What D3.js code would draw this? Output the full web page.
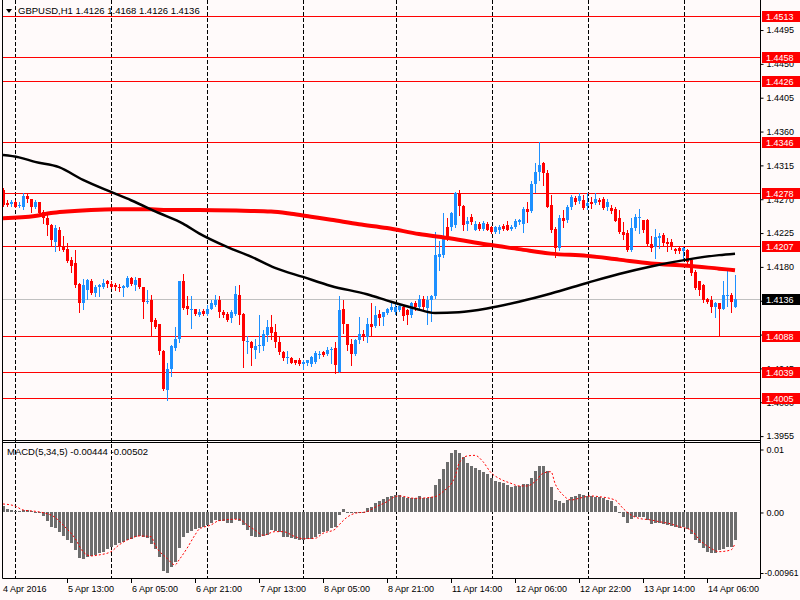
<!DOCTYPE html>
<html><head><meta charset="utf-8">
<script src="https://cdn.jsdelivr.net/npm/d3@7/dist/d3.min.js"></script>
<style>
body{margin:0;background:#fffafa}
svg{display:block}
text{font-family:"Liberation Sans",Arial,sans-serif;font-size:9px}
</style>
</head><body>
<svg id="chart" width="800" height="600"></svg>
<script>
// ---------- DATA ----------
const symbolTitle = "GBPUSD,H1  1.4126 1.4168 1.4126 1.4136";
const macdTitle = "MACD(5,34,5) -0.00444 -0.00502";

const openP = [1.4282,1.4264,1.4263,1.4266,1.4260,1.4259,1.4274,1.4269,1.4259,1.4265,
1.4253,1.4244,1.4235,1.4213,1.4228,1.4206,1.4203,1.4189,1.4185,1.4157,
1.4131,1.4149,1.4161,1.4144,1.4153,1.4153,1.4160,1.4157,1.4155,1.4153,
1.4151,1.4153,1.4165,1.4155,1.4164,1.4152,1.4133,1.4135,1.4109,1.4103,
1.4068,1.4016,1.4044,1.4071,1.4083,1.4160,1.4127,1.4122,1.4123,1.4115,
1.4121,1.4117,1.4124,1.4129,1.4135,1.4119,1.4117,1.4111,1.4117,1.4142,
1.4117,1.4080,1.4080,1.4069,1.4074,1.4074,1.4089,1.4100,1.4093,1.4080,
1.4066,1.4058,1.4058,1.4055,1.4055,1.4050,1.4051,1.4050,1.4053,1.4062,
1.4066,1.4064,1.4069,1.4071,1.4040,1.4123,1.4103,1.4077,1.4064,1.4082,
1.4090,1.4086,1.4104,1.4101,1.4117,1.4113,1.4118,1.4122,1.4119,1.4122,
1.4126,1.4122,1.4115,1.4131,1.4126,1.4136,1.4125,1.4135,1.4140,1.4193,
1.4195,1.4232,1.4232,1.4235,1.4277,1.4260,1.4236,1.4246,1.4229,1.4236,
1.4230,1.4236,1.4232,1.4226,1.4228,1.4234,1.4235,1.4230,1.4232,1.4239,
1.4237,1.4256,1.4254,1.4290,1.4306,1.4317,1.4304,1.4262,1.4230,1.4204,
1.4244,1.4242,1.4259,1.4271,1.4267,1.4268,1.4260,1.4265,1.4264,1.4268,
1.4269,1.4259,1.4258,1.4257,1.4244,1.4226,1.4224,1.4202,1.4231,1.4244,
1.4242,1.4242,1.4210,1.4206,1.4218,1.4222,1.4212,1.4212,1.4203,1.4204,
1.4201,1.4202,1.4189,1.4172,1.4160,1.4155,1.4136,1.4135,1.4126,1.4131,
1.4124,1.4140,1.4142,1.4126];

const highP = [1.4284,1.4268,1.4268,1.4268,1.4265,1.4278,1.4278,1.4270,1.4268,1.4266,
1.4255,1.4248,1.4236,1.4235,1.4233,1.4220,1.4211,1.4193,1.4202,1.4158,
1.4163,1.4163,1.4163,1.4155,1.4156,1.4163,1.4162,1.4161,1.4158,1.4157,
1.4155,1.4167,1.4166,1.4166,1.4165,1.4153,1.4148,1.4142,1.4111,1.4104,
1.4069,1.4051,1.4075,1.4100,1.4161,1.4170,1.4140,1.4140,1.4124,1.4124,
1.4123,1.4129,1.4135,1.4142,1.4140,1.4122,1.4119,1.4122,1.4154,1.4155,
1.4118,1.4087,1.4081,1.4084,1.4115,1.4095,1.4109,1.4116,1.4104,1.4087,
1.4067,1.4067,1.4060,1.4056,1.4058,1.4055,1.4056,1.4061,1.4067,1.4067,
1.4067,1.4073,1.4073,1.4079,1.4140,1.4135,1.4104,1.4084,1.4084,1.4113,
1.4095,1.4111,1.4131,1.4127,1.4122,1.4120,1.4125,1.4132,1.4131,1.4131,
1.4128,1.4124,1.4133,1.4134,1.4142,1.4140,1.4140,1.4142,1.4226,1.4214,
1.4251,1.4245,1.4253,1.4279,1.4282,1.4261,1.4246,1.4250,1.4241,1.4239,
1.4241,1.4239,1.4234,1.4234,1.4235,1.4236,1.4240,1.4235,1.4243,1.4243,
1.4259,1.4266,1.4293,1.4317,1.4346,1.4319,1.4308,1.4275,1.4233,1.4248,
1.4255,1.4261,1.4275,1.4273,1.4277,1.4275,1.4278,1.4272,1.4277,1.4271,
1.4272,1.4269,1.4261,1.4259,1.4255,1.4239,1.4228,1.4244,1.4250,1.4257,
1.4242,1.4243,1.4220,1.4230,1.4224,1.4224,1.4218,1.4216,1.4205,1.4207,
1.4206,1.4203,1.4190,1.4175,1.4161,1.4157,1.4138,1.4140,1.4133,1.4132,
1.4160,1.4175,1.4144,1.4168];

const lowP = [1.4260,1.4260,1.4260,1.4259,1.4259,1.4257,1.4266,1.4253,1.4258,1.4250,
1.4238,1.4222,1.4208,1.4200,1.4202,1.4200,1.4186,1.4173,1.4153,1.4119,
1.4124,1.4137,1.4143,1.4140,1.4140,1.4151,1.4153,1.4151,1.4149,1.4147,
1.4141,1.4152,1.4155,1.4149,1.4151,1.4111,1.4132,1.4089,1.4098,1.4064,
1.4016,1.4003,1.4034,1.4069,1.4080,1.4124,1.4117,1.4098,1.4115,1.4114,
1.4115,1.4115,1.4123,1.4127,1.4113,1.4113,1.4108,1.4106,1.4116,1.4104,
1.4046,1.4065,1.4049,1.4058,1.4066,1.4069,1.4081,1.4083,1.4073,1.4064,
1.4055,1.4051,1.4051,1.4050,1.4049,1.4044,1.4049,1.4047,1.4051,1.4058,
1.4061,1.4062,1.4051,1.4038,1.4040,1.4091,1.4069,1.4049,1.4062,1.4078,
1.4082,1.4080,1.4087,1.4100,1.4102,1.4102,1.4117,1.4121,1.4117,1.4121,
1.4109,1.4104,1.4113,1.4122,1.4124,1.4123,1.4104,1.4108,1.4138,1.4175,
1.4193,1.4215,1.4228,1.4233,1.4248,1.4228,1.4228,1.4237,1.4228,1.4228,
1.4228,1.4228,1.4224,1.4224,1.4225,1.4228,1.4228,1.4229,1.4231,1.4237,
1.4226,1.4239,1.4253,1.4279,1.4295,1.4288,1.4259,1.4226,1.4193,1.4202,
1.4233,1.4239,1.4257,1.4263,1.4264,1.4257,1.4257,1.4258,1.4263,1.4263,
1.4257,1.4255,1.4251,1.4241,1.4224,1.4217,1.4201,1.4200,1.4228,1.4224,
1.4226,1.4209,1.4201,1.4191,1.4204,1.4209,1.4200,1.4203,1.4198,1.4198,
1.4190,1.4185,1.4168,1.4150,1.4142,1.4133,1.4131,1.4119,1.4113,1.4088,
1.4123,1.4128,1.4119,1.4126];

const closeP = [1.4262,1.4262,1.4265,1.4259,1.4261,1.4274,1.4269,1.4259,1.4265,1.4251,
1.4244,1.4235,1.4215,1.4231,1.4206,1.4202,1.4187,1.4180,1.4155,1.4131,
1.4155,1.4162,1.4144,1.4153,1.4155,1.4158,1.4157,1.4153,1.4153,1.4152,
1.4154,1.4164,1.4157,1.4162,1.4152,1.4133,1.4134,1.4106,1.4100,1.4068,
1.4017,1.4044,1.4074,1.4083,1.4160,1.4125,1.4123,1.4123,1.4117,1.4119,
1.4117,1.4124,1.4131,1.4135,1.4119,1.4116,1.4109,1.4119,1.4143,1.4115,
1.4081,1.4081,1.4071,1.4074,1.4076,1.4090,1.4100,1.4092,1.4080,1.4066,
1.4058,1.4059,1.4052,1.4052,1.4050,1.4053,1.4055,1.4059,1.4065,1.4064,
1.4062,1.4069,1.4070,1.4049,1.4122,1.4104,1.4075,1.4064,1.4082,1.4090,
1.4086,1.4104,1.4100,1.4115,1.4111,1.4119,1.4123,1.4126,1.4126,1.4127,
1.4114,1.4115,1.4131,1.4126,1.4136,1.4126,1.4135,1.4140,1.4195,1.4196,
1.4219,1.4219,1.4251,1.4277,1.4260,1.4235,1.4240,1.4239,1.4236,1.4230,
1.4238,1.4229,1.4226,1.4232,1.4233,1.4230,1.4229,1.4233,1.4241,1.4242,
1.4257,1.4253,1.4290,1.4305,1.4315,1.4304,1.4259,1.4228,1.4204,1.4244,
1.4240,1.4259,1.4272,1.4265,1.4273,1.4258,1.4264,1.4263,1.4269,1.4266,
1.4258,1.4265,1.4254,1.4241,1.4226,1.4222,1.4202,1.4231,1.4246,1.4246,
1.4228,1.4210,1.4204,1.4219,1.4221,1.4211,1.4210,1.4206,1.4201,1.4200,
1.4204,1.4186,1.4171,1.4151,1.4149,1.4135,1.4133,1.4126,1.4132,1.4124,
1.4142,1.4142,1.4133,1.4136];

const macdHist = [0.00095,0.00042,0.00032,0.00011,0.00021,0.00032,0.00032,0.00011,0.00002,-0.00021,
-0.00063,-0.00138,-0.00243,-0.00254,-0.00312,-0.00381,-0.00444,-0.00497,-0.00603,-0.00735,
-0.00746,-0.00709,-0.00698,-0.00682,-0.00656,-0.00630,-0.00592,-0.00561,-0.00524,-0.00497,
-0.00476,-0.00444,-0.00423,-0.00402,-0.00381,-0.00391,-0.00418,-0.00508,-0.00592,-0.00719,
-0.00931,-0.00963,-0.00878,-0.00788,-0.00577,-0.00402,-0.00339,-0.00296,-0.00275,-0.00259,
-0.00243,-0.00206,-0.00169,-0.00127,-0.00138,-0.00138,-0.00180,-0.00169,-0.00116,-0.00138,
-0.00206,-0.00286,-0.00381,-0.00402,-0.00402,-0.00381,-0.00365,-0.00286,-0.00296,-0.00312,
-0.00391,-0.00402,-0.00418,-0.00434,-0.00444,-0.00444,-0.00434,-0.00423,-0.00402,-0.00349,
-0.00312,-0.00296,-0.00259,-0.00233,-0.00048,0.00042,-0.00011,-0.00021,-0.00021,-0.00002,
0.00002,0.00063,0.00074,0.00148,0.00180,0.00201,0.00233,0.00254,0.00270,0.00270,
0.00243,0.00217,0.00217,0.00217,0.00254,0.00227,0.00217,0.00243,0.00428,0.00518,
0.00677,0.00799,0.00931,0.00984,0.00942,0.00868,0.00783,0.00730,0.00693,0.00667,
0.00640,0.00603,0.00534,0.00497,0.00481,0.00466,0.00428,0.00402,0.00413,0.00413,
0.00444,0.00444,0.00534,0.00656,0.00730,0.00730,0.00656,0.00402,0.00190,0.00180,
0.00148,0.00190,0.00243,0.00254,0.00286,0.00270,0.00254,0.00254,0.00243,0.00233,
0.00217,0.00190,0.00180,0.00095,-0.00011,-0.00085,-0.00180,-0.00116,-0.00085,-0.00085,
-0.00085,-0.00127,-0.00190,-0.00180,-0.00180,-0.00190,-0.00201,-0.00222,-0.00243,-0.00259,
-0.00243,-0.00275,-0.00349,-0.00444,-0.00497,-0.00577,-0.00630,-0.00645,-0.00656,-0.00603,
-0.00592,-0.00561,-0.00550,-0.00444];

// MACD signal line, read at these bars
const signalBars = [0,3,5,8,10,13,15,18,20,22,24,27,29,32,34,37,38,41,43,44,46,48,49,52,54,58,59,61,63,65,68,70,73,75,78,80,83,84,86,88,91,93,96,98,99,103,108,110,113,114,116,118,120,122,124,127,129,131,133,135,137,138,140,142,144,147,149,153,155,157,159,162,164,167,169,172,174,177,179,182,183];
const signalVals = [0.00127,0.00095,0.00032,0.00011,-0.00011,-0.00085,-0.00206,-0.00418,-0.00630,-0.00698,-0.00682,-0.00630,-0.00524,-0.00418,-0.00381,-0.00391,-0.00524,-0.00735,-0.00841,-0.00762,-0.00577,-0.00365,-0.00275,-0.00206,-0.00138,-0.00116,-0.00116,-0.00206,-0.00286,-0.00370,-0.00312,-0.00312,-0.00391,-0.00423,-0.00418,-0.00339,-0.00275,-0.00206,-0.00085,-0.00021,0.00005,0.00074,0.00164,0.00243,0.00254,0.00217,0.00243,0.00323,0.00561,0.00772,0.00889,0.00899,0.00799,0.00624,0.00534,0.00455,0.00413,0.00413,0.00481,0.00614,0.00640,0.00455,0.00270,0.00190,0.00217,0.00254,0.00243,0.00190,0.00058,-0.00048,-0.00101,-0.00127,-0.00153,-0.00190,-0.00233,-0.00286,-0.00434,-0.00577,-0.00630,-0.00603,-0.00502];

// red (slow) moving average, read at these bars
const maRedBars = [0,8,12,16,22,28,37,41,49,60,67,72,77,82,89,96,104,112,121,129,137,146,154,162,171,179,183];
const maRedVals = [1.4244,1.4247,1.4251,1.4253,1.4255,1.4256,1.4256,1.4255,1.4255,1.4254,1.4253,1.4250,1.4246,1.4242,1.4236,1.4231,1.4223,1.4217,1.4209,1.4203,1.4197,1.4194,1.4189,1.4184,1.4181,1.4177,1.4175];
// black moving average, read at these bars
const maBlackBars = [0,4,8,14,20,27,32,39,45,49,56,62,68,75,82,91,97,103,108,114,121,129,137,146,154,162,171,179,183];
const maBlackVals = [1.4328,1.4325,1.4319,1.4312,1.4295,1.4279,1.4268,1.4251,1.4237,1.4224,1.4206,1.4193,1.4178,1.4166,1.4154,1.4143,1.4133,1.4124,1.4118,1.4119,1.4124,1.4133,1.4144,1.4158,1.4170,1.4180,1.4189,1.4195,1.4197];

const levels = [1.4513,1.4458,1.4426,1.4346,1.4278,1.4207,1.4088,1.4039,1.4005];
const lastPrice = 1.4136;
const priceTicks = [1.4495,1.4450,1.4405,1.4360,1.4315,1.4270,1.4225,1.4180,1.4135,1.4090,1.4045,1.4000,1.3955];
const macdTicks = [0.01,0.00,-0.00961];
const macdTickLabels = ["0.01","0.00","-0.00961"];
const timeLabels = ["4 Apr 2016","5 Apr 13:00","6 Apr 05:00","6 Apr 21:00","7 Apr 13:00","8 Apr 05:00","8 Apr 21:00","11 Apr 14:00","12 Apr 06:00","12 Apr 22:00","13 Apr 14:00","14 Apr 06:00"];
const timeLabelBars = [0,16,32,48,64,80,96,112,128,144,160,176];
const gridBars = [3,27,51,75,98.25,122.25,146.25,170.25];

// ---------- DRAW ----------
const svg = d3.select("#chart");
const W = 800, H = 600;
const left = 3, right = 760, mainBottom = 440, macdTop = 442, macdBottom = 578;

svg.append("rect").attr("width",W).attr("height",H).attr("fill","#fffafa");

const n = openP.length;
const x = d3.scaleLinear().domain([0, n-1]).range([3, 3 + 4*(n-1)]);
const y = d3.scaleLinear().domain([1.4005, 1.4513]).range([398, 16]);
const ym = d3.scaleLinear().domain([-0.00961, 0.01]).range([572.5, 449]);

const defs = svg.append("defs");
defs.append("clipPath").attr("id","clipMain").append("rect")
  .attr("x",left).attr("y",0).attr("width",right-left).attr("height",mainBottom);
defs.append("clipPath").attr("id","clipMacd").append("rect")
  .attr("x",left).attr("y",macdTop).attr("width",right-left).attr("height",macdBottom-macdTop);

// grid (dashed vertical)
svg.append("g").selectAll("line").data(gridBars).join("line")
  .attr("x1",d=>Math.round(x(d))+0.5).attr("x2",d=>Math.round(x(d))+0.5)
  .attr("y1",0).attr("y2",macdBottom)
  .attr("stroke","#000").attr("stroke-width",1).attr("stroke-dasharray","4,2");

const main = svg.append("g").attr("clip-path","url(#clipMain)");

// current price line
main.append("line").attr("x1",left).attr("x2",right)
  .attr("y1",Math.round(y(lastPrice))+0.5).attr("y2",Math.round(y(lastPrice))+0.5)
  .attr("stroke","#c0c0c0").attr("stroke-width",1);

// level lines
main.append("g").selectAll("line").data(levels).join("line")
  .attr("x1",left).attr("x2",right)
  .attr("y1",d=>Math.round(y(d))+0.5).attr("y2",d=>Math.round(y(d))+0.5)
  .attr("stroke","#ff0000").attr("stroke-width",1);

// candles
const idx = d3.range(n);
const upColor = "#1e90ff", dnColor = "#ff0000";
const cg = main.append("g");
cg.selectAll("rect.wick").data(idx).join("rect").attr("class","wick")
  .attr("x",i=>Math.round(x(i)))
  .attr("width",1)
  .attr("y",i=>Math.round(y(Math.max(highP[i],openP[i],closeP[i]))))
  .attr("height",i=>Math.max(1,Math.round(y(Math.min(lowP[i],openP[i],closeP[i])))-Math.round(y(Math.max(highP[i],openP[i],closeP[i])))+1))
  .attr("fill",i=>closeP[i]>=openP[i]?upColor:dnColor);
cg.selectAll("rect.body").data(idx).join("rect").attr("class","body")
  .attr("x",i=>Math.round(x(i))-1)
  .attr("width",3)
  .attr("y",i=>Math.round(y(Math.max(openP[i],closeP[i]))))
  .attr("height",i=>Math.max(1,Math.round(y(Math.min(openP[i],closeP[i])))-Math.round(y(Math.max(openP[i],closeP[i])))))
  .attr("fill",i=>closeP[i]>=openP[i]?upColor:dnColor);

// moving averages
const maLine = d3.line().x(d=>x(d[0])).y(d=>y(d[1])).curve(d3.curveMonotoneX);
main.append("path").datum(maRedBars.map((b,i)=>[b,maRedVals[i]]))
  .attr("d",maLine).attr("fill","none").attr("stroke","#ff0000").attr("stroke-width",4);
main.append("path").datum(maBlackBars.map((b,i)=>[b,maBlackVals[i]]))
  .attr("d",maLine).attr("fill","none").attr("stroke","#000").attr("stroke-width",2.5);

// MACD pane
const mg = svg.append("g").attr("clip-path","url(#clipMacd)");
mg.selectAll("rect").data(idx).join("rect")
  .attr("x",i=>Math.round(x(i))-1).attr("width",3)
  .attr("y",i=>Math.round(Math.min(ym(0),ym(macdHist[i]))))
  .attr("height",i=>Math.max(1,Math.round(Math.abs(ym(macdHist[i])-ym(0)))))
  .attr("fill","#6d6d6d");
const sigLine = d3.line().x(d=>x(d[0])).y(d=>ym(d[1])).curve(d3.curveMonotoneX);
mg.append("path").datum(signalBars.map((b,i)=>[b,signalVals[i]]))
  .attr("d",sigLine).attr("fill","none").attr("stroke","#ff0000")
  .attr("stroke-width",1).attr("stroke-dasharray","2,2");

// frames
const frame = svg.append("g").attr("stroke","#000").attr("stroke-width",1);
frame.append("line").attr("x1",2.5).attr("x2",2.5).attr("y1",0).attr("y2",macdBottom+0.5);
frame.append("line").attr("x1",right+0.5).attr("x2",right+0.5).attr("y1",0).attr("y2",macdBottom+0.5);
frame.append("line").attr("x1",2.5).attr("x2",right+0.5).attr("y1",mainBottom+0.5).attr("y2",mainBottom+0.5);
frame.append("line").attr("x1",2.5).attr("x2",right+0.5).attr("y1",macdTop+0.5).attr("y2",macdTop+0.5);
frame.append("line").attr("x1",2.5).attr("x2",right+0.5).attr("y1",macdBottom+0.5).attr("y2",macdBottom+0.5);

// price axis
const hidden = v => levels.concat([lastPrice]).some(l=>Math.abs(y(l)-y(v))<3);
const pAxis = d3.axisRight(y).tickValues(priceTicks).tickSize(3).tickPadding(3)
  .tickFormat(v => hidden(v) ? "" : d3.format(".4f")(v));
const pa = svg.append("g").attr("transform",`translate(${right+0.5},0.5)`).call(pAxis);
pa.select(".domain").remove();
pa.selectAll("text").attr("fill","#000").style("font-family","Liberation Sans, Arial, sans-serif").style("font-size","9px");
pa.selectAll("line").attr("stroke","#000");

// MACD axis
const mAxis = d3.axisRight(ym).tickValues(macdTicks).tickSize(3).tickPadding(3)
  .tickFormat((v,i)=>macdTickLabels[i]);
const ma = svg.append("g").attr("transform",`translate(${right+0.5},0.5)`).call(mAxis);
ma.select(".domain").remove();
ma.selectAll("text").attr("fill","#000").style("font-family","Liberation Sans, Arial, sans-serif").style("font-size","9px")
  .each(function(d,i){
    if (macdTickLabels[i].length > 5) {
      d3.select(this).attr("x",4).attr("textLength",34).attr("lengthAdjust","spacingAndGlyphs");
    }
  });
ma.selectAll("line").attr("stroke","#000");

// level label boxes
const lb = svg.append("g");
levels.forEach(l=>{
  const yy = Math.round(y(l));
  lb.append("rect").attr("x",762).attr("y",yy-5).attr("width",38).attr("height",11).attr("fill","#ff0000");
  lb.append("text").attr("x",766).attr("y",yy+3.5).attr("fill","#fff").text(d3.format(".4f")(l));
});
{
  const yy = Math.round(y(lastPrice));
  lb.append("rect").attr("x",762).attr("y",yy-5).attr("width",38).attr("height",11).attr("fill","#000");
  lb.append("text").attr("x",766).attr("y",yy+3.5).attr("fill","#fff").text(d3.format(".4f")(lastPrice));
}

// time axis labels
const tg = svg.append("g");
tg.selectAll("line").data(timeLabelBars.slice(1)).join("line")
  .attr("x1",d=>Math.round(x(d))+0.5).attr("x2",d=>Math.round(x(d))+0.5)
  .attr("y1",macdBottom+1).attr("y2",macdBottom+5).attr("stroke","#000");
tg.selectAll("text").data(timeLabels).join("text")
  .attr("x",(d,i)=>Math.round(x(timeLabelBars[i]))+ (i===0?0:1))
  .attr("y",592).attr("fill","#000").text(d=>d);

// titles
svg.append("path").attr("d","M6,9 L12,9 L9,13 Z").attr("fill","#000");
svg.append("text").attr("x",18).attr("y",14).attr("fill","#000").style("font-size","9.5px").text(symbolTitle);
svg.append("text").attr("x",7).attr("y",455).attr("fill","#000").style("font-size","9.5px").text(macdTitle);
</script>
</body></html>
